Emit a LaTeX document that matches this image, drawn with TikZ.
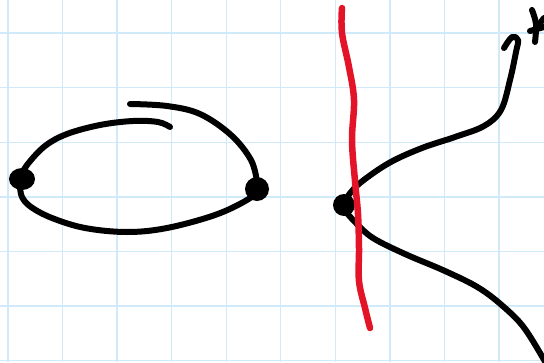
\documentclass[tikz,border=0pt]{standalone}
\definecolor{gridblue}{RGB}{208,234,250}
\definecolor{penred}{RGB}{228,20,40}
\tikzset{
  gridline/.style={draw=gridblue,line width=1.4pt},
  ink/.style={draw=black,line width=6pt,line cap=round,line join=round},
  redink/.style={draw=penred,line width=6.5pt,line cap=round,line join=round},
  blob/.style={fill=black},
}
\begin{document}
\begin{tikzpicture}[x=1pt,y=-1pt]
\useasboundingbox (0,0) rectangle (544,362);
\fill[white] (0,0) rectangle (544,362);
% grid
\foreach \i in {0,...,9} {\draw[gridline] ({8+54.55*\i},0) -- ({8+54.55*\i},362);}
\foreach \j in {0,...,6} {\draw[gridline] (0,{33+54.6*\j}) -- (544,{33+54.6*\j});}
% named points
\coordinate (L) at (22,179);
\coordinate (R) at (257,189);
\coordinate (P) at (344,205);
% left loop
\draw[ink] plot[smooth,tension=0.6] coordinates {(20,178) (27,165) (45,146) (67,134) (100,125) (133,121) (158,122) (170,127)};
\draw[ink] plot[smooth,tension=0.6] coordinates {(130,104) (167,106) (200,114) (231,135) (251,160) (257,182)};
\draw[ink] plot[smooth,tension=0.6] coordinates {(20,186) (22,197) (31,207) (52,218) (85,228) (127,232) (167,228) (215,215) (247,200) (258,190)};
\fill[blob] (L) ellipse [x radius=13pt, y radius=11pt];
\fill[blob] (R) circle [radius=12pt];
% right figure
\draw[ink] plot[smooth,tension=0.6] coordinates {(348,196) (360,183) (389,163) (422,148) (455,137) (484,126) (501,110) (510,80) (516,52) (518,40) (512,37) (504,48)};
\draw[ink] plot[smooth,tension=0.6] coordinates {(346,212) (356,223) (373,238) (405,254) (445,271) (479,288) (505,308) (525,329) (547,365)};
\fill[blob] (P) circle [radius=11pt];
% mark top right
\draw[ink] plot[smooth,tension=0.6] coordinates {(532,10) (536,24) (535,42)};
\draw[ink] (530,31) -- (544,27);
\draw[ink] (537,27) -- (544,18);
% red line
\draw[redink] plot[smooth,tension=0.6] coordinates {(342,8) (342,33) (349,67) (354,100) (352,140) (355,181) (358,214) (359,248) (359,281) (365,308) (370,328)};
\end{tikzpicture}
\end{document}
